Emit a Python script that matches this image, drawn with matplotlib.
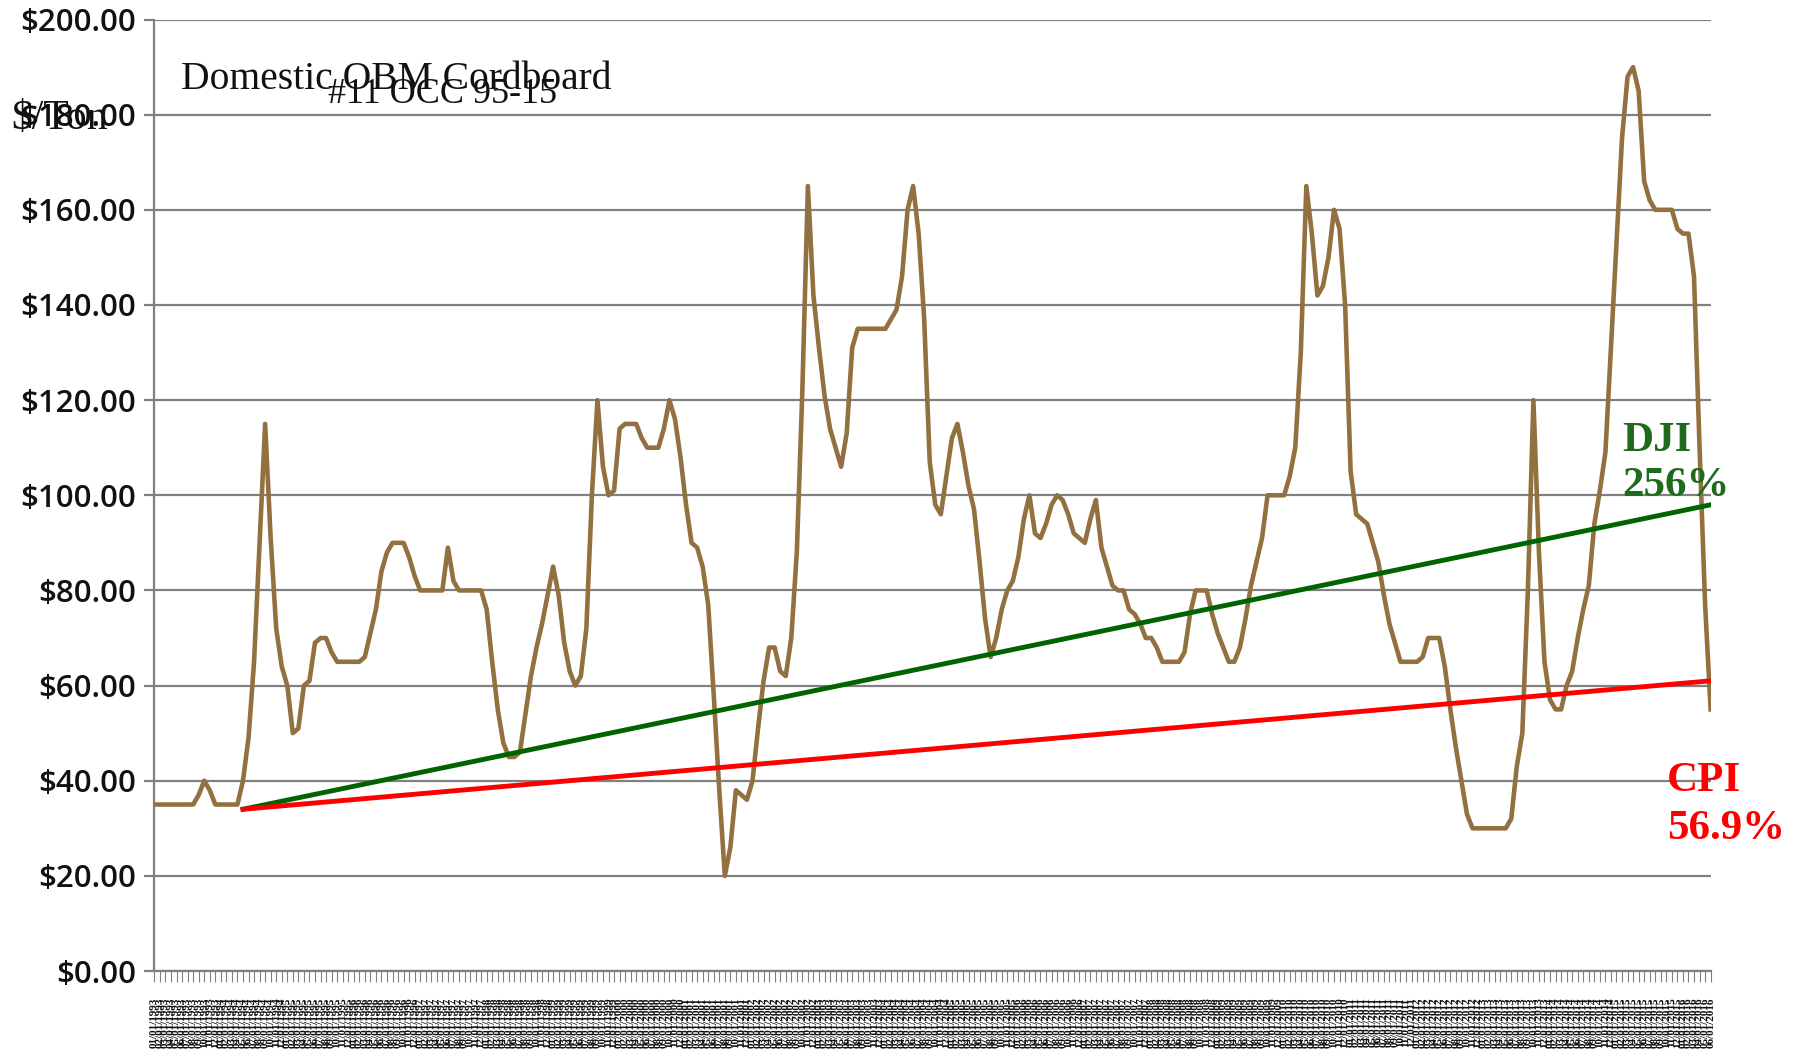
# OCC #11 price history with DJI / CPI trend lines
import numpy as np
import pandas as pd
import matplotlib
matplotlib.use('Agg')
import matplotlib.pyplot as plt

# Monthly price ($/ton)
PRICES = [35, 35, 35, 35, 35, 35, 35, 35, 37, 40, 38, 35, 35, 35, 35, 35,
          40, 49, 65, 90, 115, 91, 72, 64, 60, 50, 51, 60, 61, 69, 70, 70,
          67, 65, 65, 65, 65, 65, 66, 71, 76, 84, 88, 90, 90, 90, 87, 83,
          80, 80, 80, 80, 80, 89, 82, 80, 80, 80, 80, 80, 76, 65, 55, 48,
          45, 45, 46, 54, 62, 68, 73, 79, 85, 79, 69, 63, 60, 62, 72, 100,
          120, 106, 100, 101, 114, 115, 115, 115, 112, 110, 110, 110, 114, 120, 116, 108,
          98, 90, 89, 85, 77, 58, 38, 20, 26, 38, 37, 36, 40, 51, 61, 68,
          68, 63, 62, 70, 88, 122, 165, 142, 131, 121, 114, 110, 106, 113, 131, 135,
          135, 135, 135, 135, 135, 137, 139, 146, 160, 165, 155, 137, 107, 98, 96, 104,
          112, 115, 109, 102, 97, 86, 74, 66, 70, 76, 80, 82, 87, 95, 100, 92,
          91, 94, 98, 100, 99, 96, 92, 91, 90, 95, 99, 89, 85, 81, 80, 80,
          76, 75, 73, 70, 70, 68, 65, 65, 65, 65, 67, 75, 80, 80, 80, 75,
          71, 68, 65, 65, 68, 74, 81, 86, 91, 100, 100, 100, 100, 104, 110, 130,
          165, 155, 142, 144, 150, 160, 156, 140, 105, 96, 95, 94, 90, 86, 79, 73,
          69, 65, 65, 65, 65, 66, 70, 70, 70, 64, 55, 47, 40, 33, 30, 30,
          30, 30, 30, 30, 30, 32, 43, 50, 80, 120, 88, 65, 57, 55, 55, 60,
          63, 70, 76, 81, 94, 101, 109, 131, 153, 175, 188, 190, 185, 166, 162, 160,
          160, 160, 160, 156, 155, 155, 146, 110, 77, 55]

MONTHS = pd.date_range('1993-01-01', periods=len(PRICES), freq='MS')
MONTH_LABELS = [m.strftime('%m/%d/%Y') for m in MONTHS]

# Trend lines: start month index and end month index with values
TREND_X = [16, len(PRICES) - 1]
DJI_TREND = [34, 98]
CPI_TREND = [34, 61]

Y_TICKS = np.arange(0, 201, 20)

figure = plt.figure(figsize=(17.95, 10.61), dpi=100)
plot1 = figure.add_axes([0.086, 0.0848, 0.867, 0.8968])

x = np.arange(len(PRICES))
plot1.plot(x, PRICES, color='#93703F', linewidth=3.3, solid_joinstyle='round', zorder=3)
plot1.plot(TREND_X, DJI_TREND, color='#006400', linewidth=3.5, zorder=4)
plot1.plot(TREND_X, CPI_TREND, color='#FF0000', linewidth=3.5, zorder=4)

plot1.set_xlim(0, len(PRICES) - 1)
plot1.set_ylim(0, 200)
plot1.set_yticks(Y_TICKS)
plot1.set_yticklabels(['${:.2f}'.format(v) for v in Y_TICKS], fontsize=22.5,
                      fontfamily='Open Sans', fontweight='semibold', color='#111111')
plot1.set_xticks(x)
plot1.set_xticklabels(MONTH_LABELS, rotation=90, fontsize=8, fontweight='bold',
                      fontfamily='Liberation Serif', color='#111111')
plot1.grid(axis='y', color='#808080', linewidth=1.6, zorder=1)
plot1.set_axisbelow(True)

for side in ['top', 'right']:
    plot1.spines[side].set_visible(False)
for side in ['left', 'bottom']:
    plot1.spines[side].set_color('#808080')
    plot1.spines[side].set_linewidth(1.6)
plot1.tick_params(axis='y', length=7, width=1.6, color='#808080', pad=6)
plot1.tick_params(axis='x', length=8, width=0.8, color='#808080', pad=11)

# Titles and annotations (overlapping as in the original)
figure.text(0.101, 0.925, 'Domestic OBM Cordboard', fontsize=28.5,
            fontfamily='Liberation Serif', color='#111111', va='center', ha='left')
figure.text(0.183, 0.911, '#11 OCC 95-15', fontsize=26,
            fontfamily='Liberation Serif', color='#111111', va='center', ha='left')
figure.text(0.006, 0.888, '$/Ton', fontsize=30,
            fontfamily='Liberation Serif', color='#111111', va='center', ha='left')

figure.text(0.9036, 0.584, 'DJI', fontsize=31, fontweight='bold',
            fontfamily='Liberation Serif', color='#1E6B1E', va='center', ha='left')
figure.text(0.9036, 0.5415, '256%', fontsize=31, fontweight='bold',
            fontfamily='Liberation Serif', color='#1E6B1E', va='center', ha='left')
figure.text(0.9287, 0.264, 'CPI', fontsize=31, fontweight='bold',
            fontfamily='Liberation Serif', color='#FF0000', va='center', ha='left')
figure.text(0.9287, 0.219, '56.9%', fontsize=31, fontweight='bold',
            fontfamily='Liberation Serif', color='#FF0000', va='center', ha='left')

figure.savefig('out.png', dpi=100)
